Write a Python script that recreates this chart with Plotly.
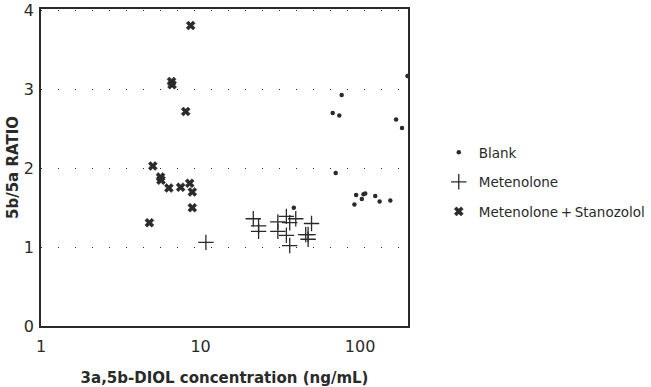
import plotly.graph_objects as go

# Blank
blank_x = [38.4, 67.3, 74.0, 76.6, 70.3, 92.1, 94.4, 102.5, 105, 107.6, 124.4, 132.5, 154.6, 168, 183, 198]
blank_y = [1.50, 2.70, 2.67, 2.93, 1.94, 1.54, 1.66, 1.61, 1.67, 1.68, 1.65, 1.58, 1.59, 2.62, 2.51, 3.17]

# Metenolone
met_x = [10.8, 21.4, 23.1, 23.1, 30.5, 30.5, 34.5, 34.5, 36.2, 39.5, 36.2, 45.6, 47.2, 47.2, 49.6]
met_y = [1.06, 1.36, 1.27, 1.20, 1.32, 1.20, 1.39, 1.15, 1.31, 1.36, 1.02, 1.16, 1.10, 1.16, 1.30]

# Metenolone + Stanozolol
stan_x = [8.67, 6.58, 6.63, 8.07, 5.02, 5.61, 5.65, 6.33, 7.50, 8.55, 8.88, 8.88, 4.78]
stan_y = [3.81, 3.10, 3.06, 2.72, 2.03, 1.89, 1.85, 1.75, 1.76, 1.81, 1.70, 1.50, 1.31]

x_ticks = [1, 10, 100]
y_ticks = [0, 1, 2, 3, 4]

ink = "#2a2a2a"
font_family = "DejaVu Sans, Verdana, sans-serif"

fig = go.Figure()
fig.add_trace(go.Scatter(x=blank_x, y=blank_y, mode="markers", name="Blank",
                         legendgroup="a",
                         marker=dict(symbol="circle", size=4.5, color=ink)))
fig.add_trace(go.Scatter(x=met_x, y=met_y, mode="markers", name="Metenolone",
                         legendgroup="b",
                         marker=dict(symbol="cross-thin", size=11, color=ink,
                                     line=dict(width=1.3, color=ink))))
fig.add_trace(go.Scatter(x=stan_x, y=stan_y, mode="markers",
                         name="Metenolone\u2009+\u2009Stanozolol",
                         legendgroup="c",
                         marker=dict(symbol="x", size=8, color=ink,
                                     line=dict(width=0.5, color=ink))))

fig.update_layout(
    width=651, height=387,
    margin=dict(l=41, r=243, t=9, b=61, autoexpand=False),
    paper_bgcolor="white", plot_bgcolor="white",
    font=dict(family=font_family, color=ink, size=16),
    showlegend=True,
    legend=dict(xref="container", yref="container", x=0.674, y=0.646,
                xanchor="left", yanchor="top",
                font=dict(size=13.5, color=ink), tracegroupgap=9,
                borderwidth=0, bgcolor="rgba(0,0,0,0)", itemsizing="trace"),
    xaxis=dict(type="log", range=[0, 2.30], tickvals=x_ticks,
               ticktext=[str(v) for v in x_ticks],
               showgrid=False, zeroline=False, automargin=False,
               ticks="outside", ticklen=5, tickcolor="rgba(0,0,0,0)",
               showline=True, linecolor=ink, linewidth=1.5, mirror=True,
               tickfont=dict(size=16),
               title=dict(text="<b>3a,5b-DIOL concentration (ng/mL)</b>",
                          font=dict(size=15), standoff=19)),
    yaxis=dict(range=[0, 4.02], tickvals=y_ticks, automargin=False,
               showgrid=True, gridcolor=ink, gridwidth=1.3, griddash="1.3px,15.7px",
               zeroline=False, ticks="outside", ticklen=2, tickcolor="rgba(0,0,0,0)",
               showline=True, linecolor=ink, linewidth=1.5, mirror=True,
               tickfont=dict(size=16),
               title=dict(text="<b>5b/5a RATIO</b>", font=dict(size=15), standoff=2)),
)

fig.write_html("out.html")
